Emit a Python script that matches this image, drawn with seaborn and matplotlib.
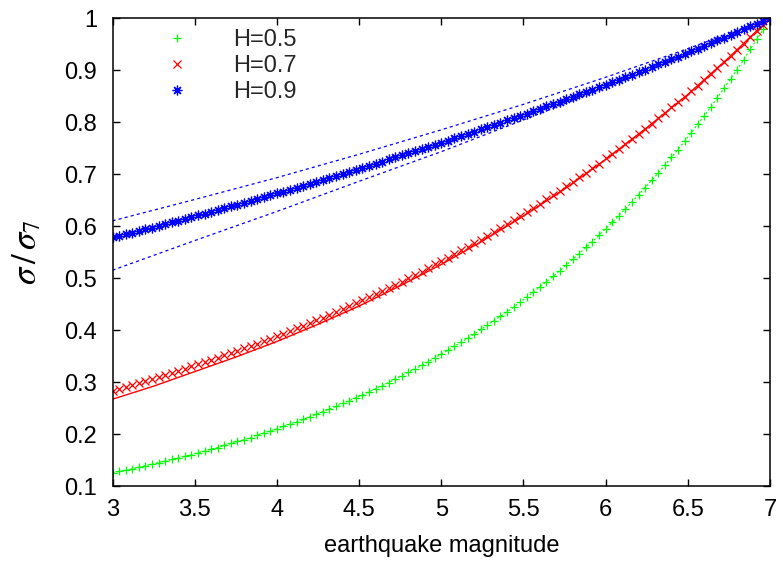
import numpy as np
import matplotlib
matplotlib.use("Agg")
import matplotlib.pyplot as plt
from matplotlib.ticker import FuncFormatter, MultipleLocator
import seaborn as sns

# Magnitude grid shared by the three marker series
magnitude = np.round(np.linspace(3.0, 7.0, 101), 2)

# sigma / sigma_7 for each Hurst exponent
sigma_h05 = [
    0.125, 0.128, 0.130, 0.133, 0.136, 0.139, 0.142, 0.145, 0.148, 0.151,
    0.154, 0.157, 0.160, 0.164, 0.167, 0.171, 0.174, 0.178, 0.182, 0.186,
    0.189, 0.193, 0.198, 0.202, 0.206, 0.210, 0.215, 0.219, 0.224, 0.228,
    0.233, 0.238, 0.243, 0.248, 0.253, 0.259, 0.264, 0.270, 0.275, 0.281,
    0.287, 0.293, 0.299, 0.306, 0.312, 0.319, 0.325, 0.332, 0.339, 0.346,
    0.354, 0.361, 0.369, 0.376, 0.384, 0.392, 0.401, 0.409, 0.418, 0.426,
    0.435, 0.444, 0.454, 0.463, 0.473, 0.483, 0.493, 0.503, 0.514, 0.525,
    0.536, 0.547, 0.559, 0.570, 0.582, 0.595, 0.607, 0.620, 0.633, 0.646,
    0.660, 0.674, 0.688, 0.702, 0.717, 0.732, 0.747, 0.763, 0.779, 0.796,
    0.812, 0.829, 0.847, 0.865, 0.883, 0.901, 0.920, 0.940, 0.959, 0.979,
    1.000,
]
sigma_h07 = [
    0.283, 0.287, 0.290, 0.294, 0.298, 0.302, 0.305, 0.309, 0.313, 0.317,
    0.321, 0.325, 0.330, 0.334, 0.338, 0.342, 0.347, 0.351, 0.355, 0.360,
    0.365, 0.369, 0.374, 0.379, 0.383, 0.388, 0.393, 0.398, 0.403, 0.408,
    0.414, 0.419, 0.424, 0.429, 0.435, 0.440, 0.446, 0.452, 0.457, 0.463,
    0.469, 0.475, 0.481, 0.487, 0.493, 0.500, 0.506, 0.512, 0.519, 0.526,
    0.532, 0.539, 0.546, 0.553, 0.560, 0.567, 0.574, 0.581, 0.589, 0.596,
    0.604, 0.611, 0.619, 0.627, 0.635, 0.643, 0.651, 0.659, 0.668, 0.676,
    0.685, 0.694, 0.702, 0.711, 0.720, 0.730, 0.739, 0.748, 0.758, 0.767,
    0.777, 0.787, 0.797, 0.807, 0.817, 0.828, 0.838, 0.849, 0.860, 0.870,
    0.881, 0.893, 0.904, 0.915, 0.927, 0.939, 0.951, 0.963, 0.975, 0.987,
    1.000,
]
sigma_h09 = [
    0.578, 0.581, 0.584, 0.587, 0.591, 0.594, 0.597, 0.600, 0.604, 0.607,
    0.610, 0.614, 0.617, 0.621, 0.624, 0.627, 0.631, 0.634, 0.638, 0.641,
    0.645, 0.648, 0.652, 0.656, 0.659, 0.663, 0.666, 0.670, 0.674, 0.677,
    0.681, 0.685, 0.689, 0.693, 0.696, 0.700, 0.704, 0.708, 0.712, 0.716,
    0.720, 0.724, 0.728, 0.732, 0.736, 0.740, 0.744, 0.748, 0.752, 0.756,
    0.760, 0.764, 0.769, 0.773, 0.777, 0.781, 0.786, 0.790, 0.794, 0.799,
    0.803, 0.807, 0.812, 0.816, 0.821, 0.825, 0.830, 0.834, 0.839, 0.844,
    0.848, 0.853, 0.858, 0.862, 0.867, 0.872, 0.877, 0.881, 0.886, 0.891,
    0.896, 0.901, 0.906, 0.911, 0.916, 0.921, 0.926, 0.931, 0.936, 0.941,
    0.947, 0.952, 0.957, 0.962, 0.968, 0.973, 0.978, 0.984, 0.989, 0.995,
    1.000,
]

# Analytic curve for H=0.7
curve_magnitude = [3.0, 3.25, 3.5, 3.75, 4.0, 4.25, 4.5, 4.75, 5.0,
                   5.25, 5.5, 5.75, 6.0, 6.25, 6.5, 6.75, 7.0]
curve_h07 = [0.267, 0.292, 0.320, 0.348, 0.378, 0.411, 0.446, 0.485, 0.526,
             0.571, 0.619, 0.671, 0.728, 0.789, 0.853, 0.924, 1.000]

# Bounds around the H=0.9 series
bound_magnitude = [3.0, 3.5, 4.0, 4.5, 5.0, 5.5, 6.0, 6.5, 7.0]
bound_h09_upper = [0.610, 0.651, 0.693, 0.738, 0.785, 0.834, 0.886, 0.941, 1.000]
bound_h09_lower = [0.515, 0.572, 0.628, 0.686, 0.743, 0.804, 0.866, 0.931, 1.000]

labels = ["H=0.5", "H=0.7", "H=0.9"]
GREEN, RED, BLUE = "#00ff00", "#ff0000", "#0000ff"

sns.set_theme(style="ticks")
plt.rcParams["font.family"] = ["Liberation Sans", "DejaVu Sans"]
plt.rcParams["mathtext.fontset"] = "stix"

fig = plt.figure(figsize=(7.83, 5.65), dpi=100)
ax = fig.add_axes([0.1437, 0.1398, 0.8397, 0.8283])

common = dict(ax=ax, estimator=None, sort=False, errorbar=None)

# Lines
sns.lineplot(x=magnitude, y=sigma_h05, color=GREEN, linewidth=0.8,
             linestyle=(0, (2.0, 2.0)), **common)
sns.lineplot(x=curve_magnitude, y=curve_h07, color=RED, linewidth=1.0, **common)
sns.lineplot(x=bound_magnitude, y=bound_h09_upper, color=BLUE, linewidth=0.9,
             linestyle=(0, (2.5, 2.5)), **common)
sns.lineplot(x=bound_magnitude, y=bound_h09_lower, color=BLUE, linewidth=0.9,
             linestyle=(0, (2.5, 2.5)), **common)

# Marker series
handles = []
for yvals, col, mk, ms in [(sigma_h05, GREEN, "+", 6.0),
                           (sigma_h07, RED, "x", 5.8),
                           (sigma_h09, BLUE, (8, 2, 0), 7.0)]:
    sns.lineplot(x=magnitude, y=yvals, color=col, marker=mk, markersize=ms,
                 markeredgewidth=0.9, markeredgecolor=col, markerfacecolor=col,
                 linestyle="", **common)
    handles.append(ax.lines[-1])

ax.set_xlim(3, 7)
ax.set_ylim(0.1, 1.0)
ax.xaxis.set_major_locator(MultipleLocator(0.5))
ax.yaxis.set_major_locator(MultipleLocator(0.1))
fmt = FuncFormatter(lambda v, p: f"{v:g}")
ax.xaxis.set_major_formatter(fmt)
ax.yaxis.set_major_formatter(fmt)

ax.tick_params(axis="both", which="major", direction="in", length=5, width=1,
               top=True, right=True, labelsize=17, color="black",
               labelcolor="black")
ax.tick_params(axis="y", pad=11)
ax.tick_params(axis="x", pad=9)
for sp in ax.spines.values():
    sp.set_linewidth(1.1)
    sp.set_color("black")
    sp.set_visible(True)

ax.set_xlabel("earthquake magnitude", fontsize=17, color="black")
ax.set_ylabel(r"$\sigma\,/\,\sigma_7$", fontsize=25, color="black")
ax.xaxis.set_label_coords(0.5, -0.105)
ax.yaxis.set_label_coords(-0.105, 0.5)

ax.legend(handles, labels, loc="upper left", bbox_to_anchor=(0.08, 0.977),
          frameon=False, handlelength=1.0, handletextpad=1.9,
          labelspacing=0.17, borderpad=0, borderaxespad=0, fontsize=17)

fig.savefig("out.png", dpi=100)
